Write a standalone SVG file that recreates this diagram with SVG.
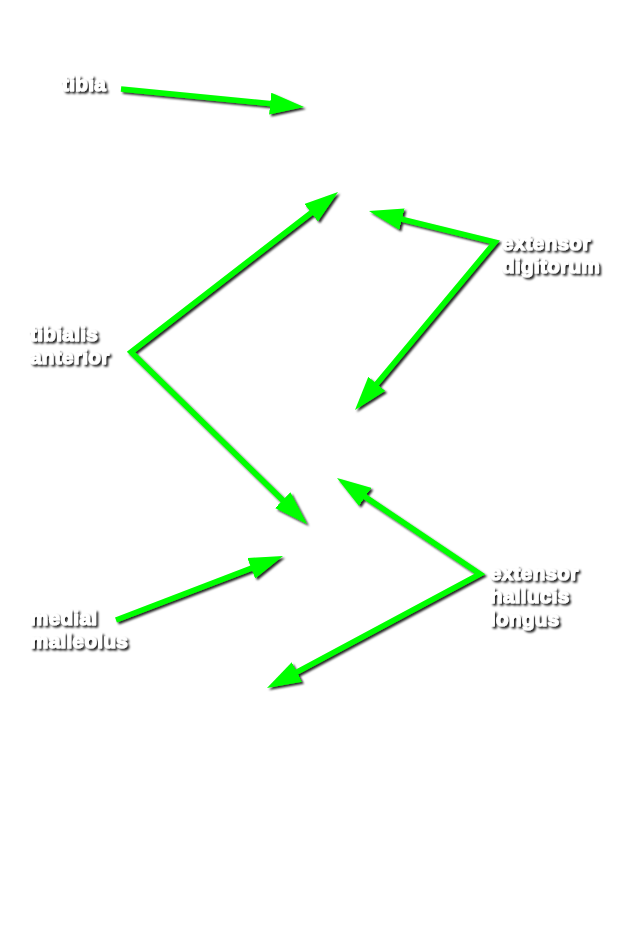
<svg xmlns="http://www.w3.org/2000/svg" width="631" height="950" viewBox="0 0 631 950">
<style>
.lbl{font-family:"Liberation Sans",Arial,sans-serif;font-weight:bold;font-size:20.5px;letter-spacing:0.4px;fill:#ffffff;stroke:#ffffff;stroke-width:1.2px;stroke-linejoin:round;filter:url(#ts)}
.arr{fill:none;stroke:#00ff00;stroke-width:5.5;stroke-linejoin:miter;stroke-miterlimit:10;marker-end:url(#head);marker-start:url(#headS)}
</style>
<defs>
<filter id="sh" x="-20%" y="-20%" width="140%" height="140%">
<feDropShadow dx="2" dy="2" stdDeviation="1.3" flood-color="#000" flood-opacity="0.85"/>
</filter>
<filter id="ts" x="-20%" y="-30%" width="140%" height="160%">
<feDropShadow dx="2" dy="2" stdDeviation="1.2" flood-color="#000" flood-opacity="0.9"/>
</filter>
<marker id="head" viewBox="0 0 34 22" markerUnits="userSpaceOnUse" markerWidth="34" markerHeight="22" refX="14" refY="11" orient="auto">
<path d="M0,0 L34,11 L0,22 z" fill="#00ff00"/>
</marker>
<marker id="headS" viewBox="0 0 34 22" markerUnits="userSpaceOnUse" markerWidth="34" markerHeight="22" refX="14" refY="11" orient="auto-start-reverse">
<path d="M0,0 L34,11 L0,22 z" fill="#00ff00"/>
</marker>
</defs>
<rect width="631" height="950" fill="#ffffff"/>
<g id="connectors" filter="url(#sh)">
<path class="arr" style="marker-start:none" d="M121,89 L284.1,105"/>
<path class="arr" d="M322.2,204.2 L131,352 L292.7,510"/>
<path class="arr" d="M388.4,215.8 L495,242 L367.8,394.6"/>
<path class="arr" d="M353.6,489.1 L480,574 L284.6,678.6"/>
<path class="arr" style="marker-start:none" d="M116,620 L264.3,563.2"/>
</g>
<g id="tibia"><text class="lbl" x="62" y="91">tibia</text></g>
<g id="tibialis-anterior"><text class="lbl" x="30" y="341">tibialis</text><text class="lbl" x="30" y="364">anterior</text></g>
<g id="extensor-digitorum"><text class="lbl" x="502" y="250">extensor</text><text class="lbl" x="502" y="273">digitorum</text></g>
<g id="extensor-hallucis-longus"><text class="lbl" x="490" y="580">extensor</text><text class="lbl" x="490" y="603">hallucis</text><text class="lbl" x="490" y="626">longus</text></g>
<g id="medial-malleolus"><text class="lbl" x="30" y="625">medial</text><text class="lbl" x="30" y="648">malleolus</text></g>
</svg>
